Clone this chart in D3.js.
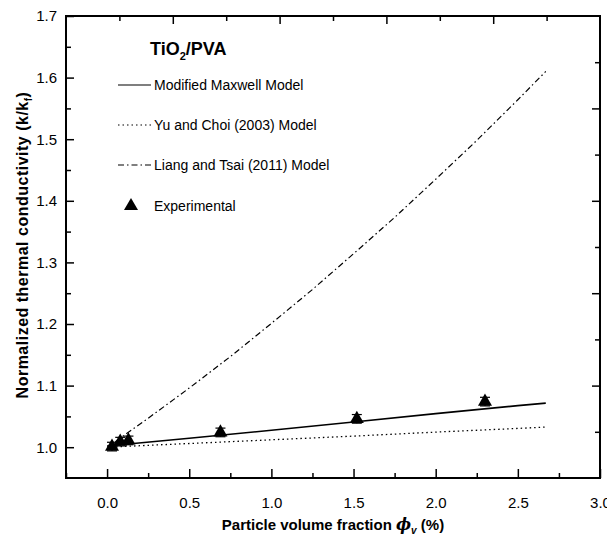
<!DOCTYPE html>
<html>
<head>
<meta charset="utf-8">
<script src="https://cdn.jsdelivr.net/npm/d3@7"></script>
<style>
  body { margin: 0; background: #fff; }
  svg text { font-family: "Liberation Sans Narrow", "Arial Narrow", "Liberation Sans", Arial, sans-serif; fill: #000; }
</style>
</head>
<body>
<svg id="chart" width="607" height="543"></svg>
<script>
// experimental points
const expX = [0.03, 0.08, 0.13, 0.69, 1.52, 2.30];
const expY = [1.001, 1.009, 1.011, 1.024, 1.046, 1.074];
const expErr = [0.007, 0.007, 0.007, 0.007, 0.007, 0.007];

// model curves
const maxwellX = [0, 0.5, 1.0, 1.5, 2.0, 2.5, 2.67];
const maxwellY = [1.002, 1.0145, 1.0275, 1.041, 1.0545, 1.0675, 1.0716];

const yuChoiX = [0, 0.5, 1.0, 1.5, 2.0, 2.5, 2.67];
const yuChoiY = [1.0, 1.006, 1.012, 1.018, 1.0245, 1.0305, 1.0327];

const liangX = [0.05, 0.25, 0.5, 0.75, 1.0, 1.25, 1.5, 1.75, 2.0, 2.25, 2.5, 2.67];
const liangY = [1.009, 1.047, 1.096, 1.147, 1.201, 1.256, 1.314, 1.373, 1.435, 1.498, 1.564, 1.61];

const xTicks = [0.0, 0.5, 1.0, 1.5, 2.0, 2.5, 3.0];
const yTicks = [1.0, 1.1, 1.2, 1.3, 1.4, 1.5, 1.6, 1.7];

const legendNames = ["Modified Maxwell Model", "Yu and Choi (2003) Model", "Liang and Tsai (2011) Model", "Experimental"];

const margin = { top: 16, right: 7, bottom: 65, left: 66 };
const svg = d3.select("#chart");
const width = 607 - margin.left - margin.right;
const height = 543 - margin.top - margin.bottom;

const g = svg.append("g").attr("transform", `translate(${margin.left},${margin.top})`);

const x = d3.scaleLinear().domain([-0.25, 3.0]).range([0, width]);
const y = d3.scaleLinear().domain([0.95, 1.7]).range([height, 0]);
// top / right frame ticks (unlabelled)
const xTop = d3.scaleLinear().domain([0, 10]).range([0, width]);
const yRight = d3.scaleLinear().domain([0, 10]).range([height, 0]);

// bottom axis: major ticks inward
g.append("g")
    .attr("transform", `translate(0,${height})`)
    .call(d3.axisBottom(x).tickValues(xTicks).tickSize(-9).tickPadding(19).tickFormat(d3.format(".1f")))
    .call(a => a.select(".domain").remove())
    .call(a => a.selectAll("text").attr("font-size", 15));
g.append("g")
    .attr("transform", `translate(0,${height})`)
    .call(d3.axisBottom(x).tickValues([-0.25, 0.25, 0.75, 1.25, 1.75, 2.25, 2.75]).tickSize(-5).tickFormat(""))
    .call(a => a.select(".domain").remove());

// left axis
g.append("g")
    .call(d3.axisLeft(y).tickValues(yTicks).tickSize(-8).tickPadding(9).tickFormat(d3.format(".1f")))
    .call(a => a.select(".domain").remove())
    .call(a => a.selectAll("text").attr("font-size", 15));
g.append("g")
    .call(d3.axisLeft(y).tickValues([1.05, 1.15, 1.25, 1.35, 1.45, 1.55, 1.65]).tickSize(-5).tickFormat(""))
    .call(a => a.select(".domain").remove());

// top axis
g.append("g")
    .call(d3.axisTop(xTop).tickValues([2, 4, 6, 8]).tickSize(-8).tickFormat(""))
    .call(a => a.select(".domain").remove());
g.append("g")
    .call(d3.axisTop(xTop).tickValues([1, 3, 5, 7, 9]).tickSize(-5).tickFormat(""))
    .call(a => a.select(".domain").remove());

// right axis
g.append("g")
    .attr("transform", `translate(${width},0)`)
    .call(d3.axisRight(yRight).tickValues([2, 4, 6, 8]).tickSize(-8).tickFormat(""))
    .call(a => a.select(".domain").remove());
g.append("g")
    .attr("transform", `translate(${width},0)`)
    .call(d3.axisRight(yRight).tickValues([1, 3, 5, 7, 9]).tickSize(-5).tickFormat(""))
    .call(a => a.select(".domain").remove());

g.selectAll(".tick line").attr("stroke", "#000").attr("stroke-width", 1.5);

// frame
g.append("rect")
    .attr("width", width).attr("height", height)
    .attr("fill", "none").attr("stroke", "#000").attr("stroke-width", 2);

const line = d3.line().x(d => x(d[0])).y(d => y(d[1]));

g.append("path")
    .datum(maxwellX.map((v, i) => [v, maxwellY[i]]))
    .attr("d", line).attr("fill", "none").attr("stroke", "#000").attr("stroke-width", 1.6);

g.append("path")
    .datum(yuChoiX.map((v, i) => [v, yuChoiY[i]]))
    .attr("d", line).attr("fill", "none").attr("stroke", "#000").attr("stroke-width", 1.3)
    .attr("stroke-dasharray", "1.5,3");

g.append("path")
    .datum(liangX.map((v, i) => [v, liangY[i]]))
    .attr("d", line).attr("fill", "none").attr("stroke", "#000").attr("stroke-width", 1.2)
    .attr("stroke-dasharray", "6,3,1.5,3");

// error bars
const eb = g.append("g");
expX.forEach((v, i) => {
    const x0 = x(v), y1 = y(expY[i] - expErr[i]), y2 = y(expY[i] + expErr[i]);
    eb.append("line").attr("x1", x0).attr("x2", x0).attr("y1", y1).attr("y2", y2).attr("stroke", "#000").attr("stroke-width", 1.2);
    eb.append("line").attr("x1", x0 - 5).attr("x2", x0 + 5).attr("y1", y1).attr("y2", y1).attr("stroke", "#000").attr("stroke-width", 1.2);
    eb.append("line").attr("x1", x0 - 5).attr("x2", x0 + 5).attr("y1", y2).attr("y2", y2).attr("stroke", "#000").attr("stroke-width", 1.2);
});

const tri = d3.symbol().type(d3.symbolTriangle).size(85);
g.selectAll(".pt")
    .data(expX.map((v, i) => [v, expY[i]]))
    .enter().append("path")
    .attr("class", "pt")
    .attr("d", tri)
    .attr("transform", d => `translate(${x(d[0])},${y(d[1])})`)
    .attr("fill", "#000");

// legend
const title = svg.append("text").attr("x", 150).attr("y", 55).attr("font-size", 18).attr("font-weight", "bold");
title.append("tspan").text("TiO");
title.append("tspan").attr("font-size", 11).attr("dy", 5).text("2");
title.append("tspan").attr("dy", -5).text("/PVA");

const legY = [85, 125, 165, 206];
const dashes = [null, "1.5,3", "6,3,1.5,3"];
legendNames.forEach((name, i) => {
    if (i < 3) {
        svg.append("line").attr("x1", 118).attr("x2", 151).attr("y1", legY[i]).attr("y2", legY[i])
            .attr("stroke", "#000").attr("stroke-width", 1.2)
            .attr("stroke-dasharray", dashes[i]);
    } else {
        svg.append("path").attr("d", tri).attr("transform", `translate(131,${legY[i]})`).attr("fill", "#000");
    }
    svg.append("text").attr("x", 154).attr("y", legY[i] + 5).attr("font-size", 14).text(name);
});

// axis titles
const xt = svg.append("text").attr("x", margin.left + width / 2).attr("y", 530)
    .attr("text-anchor", "middle").attr("font-size", 15).attr("font-weight", "bold");
xt.append("tspan").text("Particle volume fraction ");
xt.append("tspan").attr("font-style", "italic").attr("font-family", "DejaVu Serif, serif").attr("font-size", 16).text("\u03d5");
xt.append("tspan").attr("font-style", "italic").attr("font-size", 10).attr("dy", 4).text("v");
xt.append("tspan").attr("dy", -4).text(" (%)");

const yt = svg.append("text").attr("transform", "translate(28,245) rotate(-90)")
    .attr("text-anchor", "middle").attr("font-size", 16).attr("font-weight", "bold")
    .attr("letter-spacing", 0.5);
yt.append("tspan").text("Normalized thermal conductivity (k/k");
yt.append("tspan").attr("font-size", 10).attr("dy", 4).text("f");
yt.append("tspan").attr("dy", -4).text(")");
</script>
</body>
</html>
